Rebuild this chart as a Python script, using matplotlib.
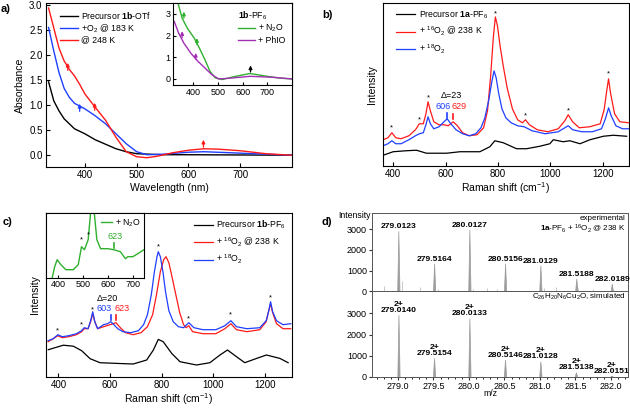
import numpy as np
import matplotlib
matplotlib.use('Agg')
import matplotlib.pyplot as plt

plt.rcParams['font.family'] = ['Liberation Sans', 'DejaVu Sans']
plt.rcParams['mathtext.fontset'] = 'custom'
plt.rcParams['mathtext.rm'] = 'Liberation Sans'
plt.rcParams['mathtext.it'] = 'Liberation Sans:italic'
plt.rcParams['mathtext.bf'] = 'Liberation Sans:bold'
plt.rcParams['font.size'] = 7
plt.rcParams['axes.linewidth'] = 0.8

RED = '#ff1a1a'
BLUE = '#1f3fff'
GREEN = '#2fb02f'
PURPLE = '#a32fb5'
GREY = '#9c9c9c'

# ---- panel a: UV-vis (absorbance)
uv_black_nm = [330, 340, 350, 360, 380, 400, 420, 440, 460, 480, 500, 550, 600, 700, 800]
uv_black_abs = [1.47, 1.09, 0.89, 0.73, 0.53, 0.43, 0.31, 0.22, 0.13, 0.07, 0.03, 0.01, 0.01, 0.005, 0.0]
uv_blue_nm = [330, 340, 350, 360, 370, 380, 400, 420, 440, 460, 480, 500, 520, 550, 600, 630, 680, 750, 800]
uv_blue_abs = [2.56, 2.09, 1.66, 1.34, 1.16, 1.04, 0.93, 0.79, 0.63, 0.43, 0.23, 0.07, 0.01, 0.02, 0.06, 0.07, 0.05, 0.02, 0.0]
uv_red_nm = [330, 340, 350, 360, 370, 380, 390, 400, 420, 440, 460, 480, 500, 520, 540, 570, 600, 630, 660, 700, 750, 800]
uv_red_abs = [2.95, 2.55, 2.15, 1.89, 1.72, 1.59, 1.42, 1.23, 0.96, 0.70, 0.36, 0.07, -0.03, -0.05, -0.02, 0.05, 0.10, 0.13, 0.12, 0.09, 0.03, 0.0]

# inset a
uv_n2o_nm = [330, 338, 355, 376, 404, 425, 447, 468, 489, 517, 559, 630, 700, 757, 800]
uv_n2o_abs = [4.0, 3.5, 2.8, 2.34, 1.88, 1.42, 0.89, 0.35, 0.05, -0.03, 0.09, 0.25, 0.12, 0.03, 0.0]
uv_phio_nm = [323, 341, 362, 390, 419, 447, 475, 503, 545, 630, 715, 800]
uv_phio_abs = [2.65, 2.11, 1.65, 1.19, 0.81, 0.51, 0.20, 0.0, 0.03, 0.12, 0.08, 0.0]

# ---- panel b: Raman of 1a-PF6 (arbitrary units)
rb_red_x = [362, 380, 395, 410, 430, 460, 485, 500, 515, 525, 533, 542, 555, 575, 595, 610, 629, 645, 665, 690, 720, 745,
            760, 772, 782, 790, 798, 808, 820, 835, 855, 875, 893, 905, 920, 950, 990, 1030, 1055, 1068, 1085, 1110,
            1150, 1190, 1205, 1215, 1222, 1230, 1245, 1265, 1300]
rb_red_y = [26, 28, 33, 28, 27, 30, 36, 42, 42, 52, 64, 55, 44, 41, 41, 40, 44, 40, 33, 30, 31, 38,
            55, 90, 128, 149, 140, 120, 100, 78, 57, 46, 43, 46, 41, 36, 34, 37, 45, 51, 44, 38,
            39, 42, 56, 75, 87, 72, 52, 44, 43]
rb_blue_x = [362, 380, 395, 410, 430, 460, 485, 500, 515, 525, 533, 542, 555, 575, 590, 606, 620, 640, 665, 690, 715,
             735, 750, 765, 777, 785, 793, 803, 815, 830, 850, 875, 900, 930, 980, 1030, 1055, 1068, 1085, 1120,
             1160, 1195, 1210, 1222, 1232, 1250, 1275, 1300]
rb_blue_y = [20, 22, 25, 22, 22, 26, 30, 32, 33, 41, 49, 42, 37, 39, 43, 47, 42, 36, 32, 30, 32,
             38, 48, 66, 85, 95, 88, 72, 57, 48, 43, 40, 39, 35, 32, 34, 38, 40, 36, 34,
             34, 37, 47, 58, 50, 40, 37, 37]
rb_black_x = [362, 400, 451, 489, 527, 604, 655, 731, 769, 788, 820, 871, 909, 960, 998, 1011, 1049, 1074, 1113,
              1151, 1202, 1240, 1291]
rb_black_y = [10.5, 14, 15, 15.5, 12.5, 12.5, 14, 14, 19, 25, 23, 17, 17, 19.5, 22, 26, 24, 25, 22,
              26, 29.5, 30.5, 29.5]
rb_star_x = [395, 500, 533, 790, 905, 1068, 1222]
rb_star_y = [38, 46, 68, 152, 50, 55, 92]

# ---- panel c: Raman of 1b-PF6
rc_red_x = [360, 380, 398, 415, 440, 470, 490, 500, 515, 525, 533, 541, 552, 575, 600, 612, 623, 640, 660, 690, 720,
            745, 765, 780, 795, 808, 817, 828, 840, 855, 870, 885, 895, 905, 920, 960, 1010, 1045, 1068, 1090,
            1130, 1180, 1205, 1215, 1222, 1230, 1245, 1270, 1300]
rc_red_y = [35, 38, 41, 39, 40, 42, 45, 48, 48, 55, 63, 55, 48, 50, 52, 53, 54, 49, 44, 42, 44,
            50, 62, 82, 105, 117, 120, 114, 100, 82, 64, 52, 49, 51, 45, 43, 43, 48, 53, 47,
            45, 47, 55, 66, 73, 64, 53, 48, 48]
rc_blue_x = [360, 380, 398, 415, 440, 470, 490, 500, 515, 525, 533, 541, 552, 575, 590, 603, 615, 630, 650, 680, 710,
             730, 745, 760, 772, 782, 787, 795, 805, 815, 828, 845, 865, 885, 905, 925, 960, 1010, 1045, 1068,
             1090, 1130, 1180, 1205, 1215, 1222, 1230, 1245, 1270, 1300]
rc_blue_y = [36, 38, 42, 40, 41, 43, 46, 49, 48, 56, 65, 55, 48, 52, 53, 55, 52, 48, 45, 44, 46,
             52, 62, 82, 105, 120, 125, 120, 105, 85, 66, 55, 50, 49, 54, 49, 47, 47, 51, 56,
             50, 48, 49, 56, 66, 75, 65, 56, 52, 53]
rc_black_x = [361, 419, 458, 490, 523, 561, 626, 690, 742, 768, 787, 806, 839, 871, 935, 987, 1026, 1055, 1090,
              1122, 1168, 1206, 1258, 1290]
rc_black_y = [27, 31.5, 30.5, 26, 18, 14, 13.3, 12.7, 16.7, 26.7, 37.3, 35, 23.3, 15, 11.7, 14, 21.7, 26.7, 20,
              14, 18.3, 21.7, 18.3, 14]
rc_star_x = [398, 490, 533, 787, 905, 1068, 1222]
rc_star_y = [46, 52, 67, 130, 58, 62, 79]

# inset c: + N2O
rc_n2o_x = [375, 385, 395, 410, 430, 460, 480, 493, 505, 520, 528, 535, 545, 555, 570, 600, 623, 650, 670, 680, 700,
            720, 745]
rc_n2o_y = [0, 11, 18, 13, 8, 8, 13, 31, 28, 38, 60, 80, 64, 38, 29, 29, 28, 26, 19, 21, 21, 24, 28]

# ---- panel d: HR-MS
ms_exp_mz = [279.0123, 279.5164, 280.0127, 280.5156, 281.0129, 281.5188, 282.0189]
ms_exp_int = [2890, 1330, 2970, 1330, 1230, 600, 350]
ms_noise_mz = [278.81, 279.06, 279.31, 279.56, 280.06, 280.25, 280.39, 281.05, 281.23, 281.54, 281.75]
ms_noise_int = [260, 520, 190, 130, 130, 160, 100, 140, 190, 140, 100]
ms_sim_mz = [279.0140, 279.5154, 280.0133, 280.5146, 281.0128, 281.5138, 282.0151]
ms_sim_int = [2920, 870, 2760, 790, 710, 190, 30]

W, H = 630, 408
fig = plt.figure(figsize=(W / 100, H / 100), dpi=100)


def box(l, t, r, b):
    # pixel box -> figure fraction
    return [l / W, 1 - b / H, (r - l) / W, (b - t) / H]


def raman_style(ax, xlim, ylim):
    ax.set_xlim(*xlim)
    ax.set_ylim(*ylim)
    ax.set_yticks([])
    ax.set_xticks([400, 600, 800, 1000, 1200])
    ax.tick_params(direction='in', length=3, labelsize=7, pad=2.5)
    ax.set_xlabel(r'Raman shift (cm$^{-1}$)', fontsize=7.5, labelpad=1)
    ax.set_ylabel('Intensity', fontsize=7.5, labelpad=4)


def up_arrow(ax, x, y, dy, c):
    ax.annotate('', xy=(x, y + dy), xytext=(x, y),
                arrowprops=dict(arrowstyle='-|>', color=c, lw=0.9, mutation_scale=5,
                                shrinkA=0, shrinkB=0))


# ===== a
ax = fig.add_axes(box(46, 3, 292, 166.7))
ax.plot(uv_black_nm, uv_black_abs, color='black', lw=1, label=r'Precursor $\mathbf{1b}$-OTf')
ax.plot(uv_blue_nm, uv_blue_abs, color=BLUE, lw=1, label=r'+O$_2$ @ 183 K')
ax.plot(uv_red_nm, uv_red_abs, color=RED, lw=1, label='@ 248 K')
ax.set_xlim(325, 800)
ax.set_ylim(-0.23, 3.05)
ax.set_xticks([400, 500, 600, 700])
ax.set_yticks(np.arange(0, 3.01, 0.5))
ax.set_yticklabels([f'{v:.1f}' for v in np.arange(0, 3.01, 0.5)])
ax.tick_params(direction='in', length=3, labelsize=7, pad=2.5)
ax.set_xlabel('Wavelength (nm)', fontsize=7.5, labelpad=2)
ax.set_ylabel('Absorbance', fontsize=7.5, labelpad=3)
ax.legend(loc='upper left', bbox_to_anchor=(0.03, 1.0), frameon=False, fontsize=6.3,
          handlelength=2.0, handletextpad=0.4, labelspacing=0.12, borderaxespad=0.4)
for x, y, c in [(367, 1.70, RED), (419, 0.90, RED), (390, 0.88, BLUE), (629, 0.16, RED)]:
    up_arrow(ax, x, y, 0.15, c)

ia = fig.add_axes(box(173, 3, 292, 85))
ia.plot(uv_n2o_nm, uv_n2o_abs, color=GREEN, lw=1, label=r'+ N$_2$O')
ia.plot(uv_phio_nm, uv_phio_abs, color=PURPLE, lw=1, label='+ PhIO')
ia.set_xlim(318, 800)
ia.set_ylim(-0.28, 3.5)
ia.set_xticks([400, 500, 600, 700])
ia.set_yticks([0, 1, 2, 3])
ia.tick_params(direction='in', length=2.5, labelsize=6.5, pad=2)
ia.legend(loc='upper right', frameon=False, fontsize=6.3, title=r'$\mathbf{1b}$-PF$_6$',
          title_fontsize=6.3, alignment='left', handlelength=2.0, handletextpad=0.4,
          labelspacing=0.15, borderaxespad=0.3)
for x, y, c in [(362, 2.8, GREEN), (415, 1.58, GREEN), (355, 1.9, PURPLE), (410, 0.9, PURPLE), (632, 0.32, 'black')]:
    up_arrow(ia, x, y, 0.3, c)

# ===== b
ax = fig.add_axes(box(382.7, 3, 629, 165.7))
ax.plot(rb_black_x, rb_black_y, color='black', lw=0.9, label=r'Precursor $\mathbf{1a}$-PF$_6$')
ax.plot(rb_red_x, rb_red_y, color=RED, lw=0.9, label=r'+ $^{16}$O$_2$ @ 238 K')
ax.plot(rb_blue_x, rb_blue_y, color=BLUE, lw=0.9, label=r'+ $^{18}$O$_2$')
raman_style(ax, (360, 1300), (0, 163))
ax.legend(loc='upper left', bbox_to_anchor=(0.03, 1.0), frameon=False, fontsize=6.3,
          handlelength=2.2, handletextpad=0.4, labelspacing=0.5, borderaxespad=0.3)
for x, y in zip(rb_star_x, rb_star_y):
    ax.text(x, y, '*', ha='center', va='center', fontsize=5.5)
ax.text(622, 70, 'Δ=23', ha='center', va='center', fontsize=6.5)
ax.text(592, 59, '606', ha='center', va='center', fontsize=6.5, color=BLUE)
ax.text(652, 59, '629', ha='center', va='center', fontsize=6.5, color=RED)
ax.plot([606, 606], [48, 53], color=BLUE, lw=1.2)
ax.plot([629, 629], [47, 52], color=RED, lw=1.2)

# ===== c
ax = fig.add_axes(box(46, 212.7, 292, 376.7))
ax.plot(rc_black_x, rc_black_y, color='black', lw=0.9, label=r'Precursor $\mathbf{1b}$-PF$_6$')
ax.plot(rc_red_x, rc_red_y, color=RED, lw=0.9, label=r'+ $^{16}$O$_2$ @ 238 K')
ax.plot(rc_blue_x, rc_blue_y, color=BLUE, lw=0.9, label=r'+ $^{18}$O$_2$')
raman_style(ax, (352, 1305), (0, 164))
ax.legend(loc='upper left', bbox_to_anchor=(0.575, 1.0), frameon=False, fontsize=6.3,
          handlelength=2.2, handletextpad=0.4, labelspacing=0.5, borderaxespad=0.3)
for x, y in zip(rc_star_x, rc_star_y):
    ax.text(x, y, '*', ha='center', va='center', fontsize=5.5)
ax.text(590, 78, 'Δ=20', ha='center', va='center', fontsize=6.5)
ax.text(578, 68, '603', ha='center', va='center', fontsize=6.5, color=BLUE)
ax.text(645, 68, '623', ha='center', va='center', fontsize=6.5, color=RED)
ax.plot([603, 603], [57, 62], color=BLUE, lw=1.2)
ax.plot([623, 623], [57, 62], color=RED, lw=1.2)

ic = fig.add_axes(box(46, 212.7, 144, 277.7))
ic.plot(rc_n2o_x, rc_n2o_y, color=GREEN, lw=1, label=r'+ N$_2$O')
ic.set_xlim(350, 745)
ic.set_ylim(0, 65)
ic.set_yticks([])
ic.set_xticks([400, 500, 600, 700])
ic.tick_params(direction='in', length=2.5, labelsize=6.5, pad=2)
ic.legend(loc='upper left', bbox_to_anchor=(0.52, 1.0), frameon=False, fontsize=6.3, handlelength=1.2,
          handletextpad=0.35, borderaxespad=0.2, borderpad=0.3)
ic.text(493, 38, '*', ha='center', va='center', fontsize=5.5)
ic.text(522, 43, '*', ha='center', va='center', fontsize=5.5)
ic.text(628, 41, '623', ha='center', va='center', fontsize=6.5, color=GREEN)
ic.plot([623, 623], [30, 35], color=GREEN, lw=1.2)

# ===== d
dt = fig.add_axes(box(371.7, 212.7, 628, 291.3))
db = fig.add_axes(box(371.7, 291.3, 628, 376.7), sharex=dt)
PW = 0.016
dt.vlines(ms_noise_mz, 0, ms_noise_int, color='#c8c8c8', lw=0.7)
for m, v, in zip(ms_exp_mz, ms_exp_int):
    dt.fill([m - PW, m, m + PW], [0, v, 0], color=GREY, lw=0.5)
    dt.text(m, v + 60, f'{m:.4f}', ha='center', va='bottom', fontsize=6.1, fontweight='bold')
for m, v in zip(ms_sim_mz, ms_sim_int):
    db.fill([m - PW, m, m + PW], [0, v, 0], color=GREY, lw=0.5)
    db.text(m, v + 60, f'2+\n{m:.4f}', ha='center', va='bottom', fontsize=6.1, fontweight='bold',
            linespacing=0.8)
dt.set_ylim(0, 3800)
db.set_ylim(0, 4050)
dt.set_xlim(278.63, 282.24)
for a in (dt, db):
    a.set_yticks([0, 1000, 2000, 3000])
    a.tick_params(direction='out', length=2, labelsize=6.5, pad=1.5, colors='#333333', labelcolor='black')
    for s in a.spines.values():
        s.set_color('#555555')
        s.set_linewidth(0.7)
dt.tick_params(axis='x', labelbottom=False, length=0)
db.set_xticks(np.arange(279.0, 282.01, 0.5))
db.set_xticklabels([f'{v:.1f}' for v in np.arange(279.0, 282.01, 0.5)])
db.set_xticks(np.arange(278.7, 282.25, 0.1), minor=True)
db.tick_params(axis='x', which='minor', length=1.5, direction='out')
dt.text(0.99, 0.93, 'experimental', transform=dt.transAxes, ha='right', va='center', fontsize=5.8)
dt.text(0.99, 0.80, r'$\mathbf{1a}$-PF$_6$ + $^{16}$O$_2$ @ 238 K', transform=dt.transAxes,
        ha='right', va='center', fontsize=5.8)
db.text(0.99, 0.93, r'C$_{26}$H$_{20}$N$_6$Cu$_2$O, simulated', transform=db.transAxes,
        ha='right', va='center', fontsize=5.8)
fig.text(371 / W, 1 - 215.5 / H, 'Intensity', ha='right', va='center', fontsize=6.3)
fig.text(490 / W, 1 - 394 / H, 'm/z', ha='center', va='center', fontsize=6.3)

# panel letters
for x, y, s in [(1, 9, 'a)'), (322, 15, 'b)'), (3, 222, 'c)'), (322, 222, 'd)')]:
    fig.text(x / W, 1 - y / H, s, ha='left', va='center', fontsize=8, fontweight='bold')

fig.savefig('out.png', dpi=100)
